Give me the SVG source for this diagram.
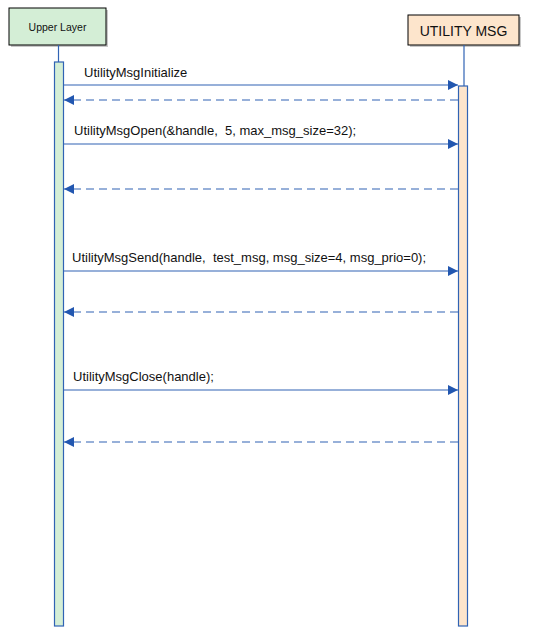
<svg xmlns="http://www.w3.org/2000/svg" width="533" height="628" viewBox="0 0 533 628">
<style>
.ln{stroke:#3063b4;stroke-width:1.2;fill:none}
.ds{stroke:#3063b4;stroke-width:1.2;fill:none;stroke-dasharray:8,5}
.lbl{font-family:"Liberation Sans",Arial,sans-serif;font-size:13px;fill:#111}
.sh{fill:#c8c8c8}
</style>
<defs>
<marker id="ah" viewBox="0 0 10 10" refX="10" refY="5" markerWidth="10" markerHeight="10" markerUnits="userSpaceOnUse" orient="auto">
<path d="M0,0 L10,5 L0,10 z" fill="#2257b0"/>
</marker>
</defs>
<rect width="533" height="628" fill="#fff"/>
<g id="upper-layer">
<rect class="sh" x="11" y="10" width="97" height="37"/>
<rect x="9" y="8" width="97" height="37" fill="#d4eed6" stroke="#000" stroke-width="1"/>
<text x="57.5" y="30.5" text-anchor="middle" font-family="Liberation Sans,Arial,sans-serif" font-size="10.5" fill="#111">Upper Layer</text>
<line class="ln" x1="58.5" y1="45" x2="58.5" y2="62"/>
<rect x="54.5" y="62" width="9" height="564" fill="#d4eed6" stroke="#3063b4" stroke-width="1.2"/>
</g>
<g id="utility-msg">
<rect class="sh" x="410" y="17" width="111" height="30"/>
<rect x="408" y="15" width="111" height="30" fill="#fde5cc" stroke="#000" stroke-width="1"/>
<text x="463.5" y="35.5" text-anchor="middle" font-family="Liberation Sans,Arial,sans-serif" font-size="14" fill="#111">UTILITY  MSG</text>
<line class="ln" x1="464" y1="45" x2="464" y2="86"/>
<rect x="458.5" y="86" width="9" height="540" fill="#fde5cc" stroke="#3063b4" stroke-width="1.2"/>
</g>
<g id="connectors">
<line class="ln" x1="64" y1="85" x2="458" y2="85" marker-end="url(#ah)"/>
<line class="ds" x1="458" y1="100" x2="64" y2="100" marker-end="url(#ah)"/>
<line class="ln" x1="64" y1="144" x2="458" y2="144" marker-end="url(#ah)"/>
<line class="ds" x1="458" y1="189" x2="64" y2="189" marker-end="url(#ah)"/>
<line class="ln" x1="64" y1="271" x2="458" y2="271" marker-end="url(#ah)"/>
<line class="ds" x1="458" y1="312" x2="64" y2="312" marker-end="url(#ah)"/>
<line class="ln" x1="64" y1="390" x2="458" y2="390" marker-end="url(#ah)"/>
<line class="ds" x1="458" y1="442" x2="64" y2="442" marker-end="url(#ah)"/>
</g>
<g id="labels">
<text class="lbl" x="84" y="77" font-size="13.5px">UtilityMsgInitialize</text>
<text class="lbl" x="74" y="135" xml:space="preserve">UtilityMsgOpen(&amp;handle,  5, max_msg_size=32);</text>
<text class="lbl" x="72" y="262" xml:space="preserve">UtilityMsgSend(handle,  test_msg, msg_size=4, msg_prio=0);</text>
<text class="lbl" x="73" y="381">UtilityMsgClose(handle);</text>
</g>
</svg>
